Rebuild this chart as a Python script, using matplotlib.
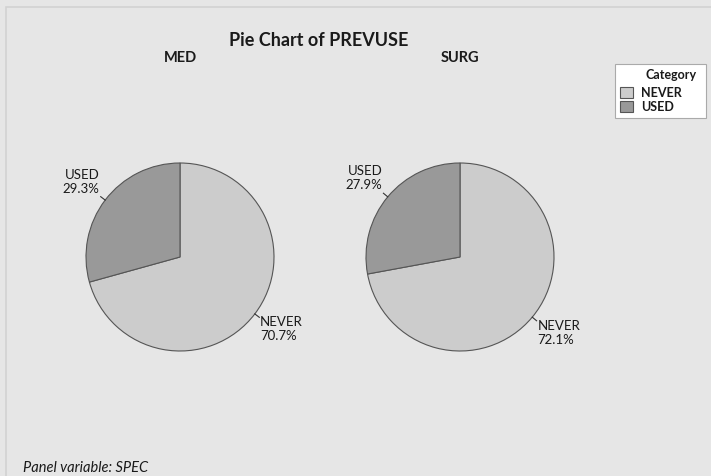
import numpy as np
import matplotlib
matplotlib.use('Agg')
import matplotlib.pyplot as plt
from matplotlib.patches import Rectangle

plt.rcParams['font.family'] = ['Lato', 'DejaVu Sans']

# Data
categories = ['NEVER', 'USED']
panels = ['MED', 'SURG']
med_pct = [70.7, 29.3]
surg_pct = [72.1, 27.9]
values = [med_pct, surg_pct]
colors = ['#cccccc', '#999999']

W, H = 711, 477
fig = plt.figure(figsize=(W / 100, H / 100), dpi=100)
fig.patch.set_facecolor('#e6e6e6')


def fx(px):
    return px / W


def fy(py):
    return 1 - py / H


# faint frame line at top/left like the original export
fig.add_artist(Rectangle((fx(6), -0.1), 1.2, fy(8) + 0.1, transform=fig.transFigure,
                         fill=False, edgecolor='#d2d2d2', lw=1.2))

fig.text(fx(319), fy(40), 'Pie Chart of PREVUSE', ha='center', va='center',
         fontsize=13, fontweight='bold', color='#1a1a1a')

centers = [180, 460]
radius = 94
cy = 258
for name, vals, cx in zip(panels, values, centers):
    ax = fig.add_axes([fx(cx - radius), fy(cy + radius), 2 * radius / W, 2 * radius / H])
    wedges, _ = ax.pie(vals, colors=colors, startangle=90, counterclock=False,
                       wedgeprops=dict(edgecolor='#555555', linewidth=0.8))
    ax.set_xlim(-1, 1)
    ax.set_ylim(-1, 1)
    ax.set_aspect('auto')
    ax.axis('off')
    fig.text(fx(cx), fy(58), name, ha='center', va='center', fontsize=10.5,
             fontweight='bold', color='#1a1a1a')
    for w, cat, v in zip(wedges, categories, vals):
        ang = np.deg2rad((w.theta1 + w.theta2) / 2)
        x0, y0 = np.cos(ang), np.sin(ang)
        x1, y1 = 1.06 * x0, 1.06 * y0
        ax.plot([x0, x1], [y0, y1], color='#333333', lw=0.8, clip_on=False)
        ha = 'left' if x0 > 0 else 'right'
        va = 'top' if y0 < 0 else 'bottom'
        ax.text(x1 + (0.01 if x0 > 0 else -0.01), y1 + (0.02 if y0 < 0 else 0.03),
                f'{cat}\n{v}%', ha=ha, va=va,
                fontsize=9.5, color='#1a1a1a', linespacing=1.2)

# legend (drawn by hand: title right-aligned, entries left-aligned)
fig.add_artist(Rectangle((fx(615), fy(119)), (706 - 615) / W, (119 - 65) / H,
                         transform=fig.transFigure, facecolor='white',
                         edgecolor='#aaaaaa', lw=0.8))
fig.text(fx(697), fy(75), 'Category', ha='right', va='center', fontsize=9,
         fontweight='bold', color='#1a1a1a')
for i, (cat, c) in enumerate(zip(categories, colors)):
    yc = 93 + i * 14
    fig.add_artist(Rectangle((fx(620), fy(yc + 5.5)), 13 / W, 11 / H,
                             transform=fig.transFigure, facecolor=c,
                             edgecolor='#555555', lw=0.8))
    fig.text(fx(641), fy(yc), cat, ha='left', va='center', fontsize=9,
             fontweight='bold', color='#1a1a1a')

fig.text(fx(23), fy(468), 'Panel variable: SPEC', ha='left', va='center',
         fontsize=10.5, style='italic', color='#1a1a1a')

fig.savefig('out.png', dpi=100, facecolor=fig.get_facecolor())
